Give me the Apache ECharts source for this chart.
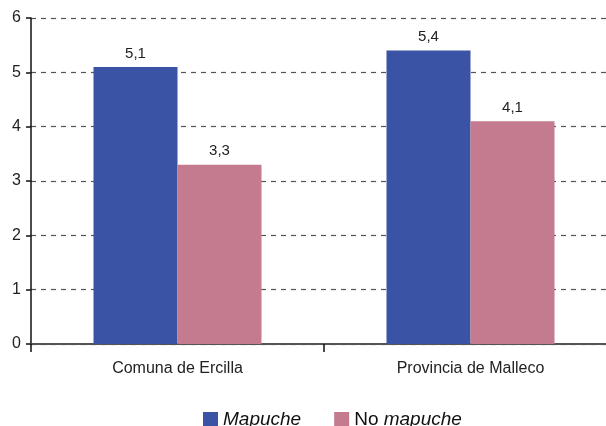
<!DOCTYPE html>
<html>
<head>
<meta charset="utf-8">
<script src="https://cdn.jsdelivr.net/npm/echarts@6/dist/echarts.min.js"></script>
<style>
  html, body { margin: 0; padding: 0; background: #fff; }
  #chart { width: 606px; height: 426px; }
</style>
</head>
<body>
<div id="chart"></div>
<script>
// datos
var categories = ['Comuna de Ercilla', 'Provincia de Malleco'];
var mapuche = [5.1, 5.4];
var noMapuche = [3.3, 4.1];
var seriesNames = ['Mapuche', 'No mapuche'];
var colorList = ['#3a53a4', '#c47b8f'];

var chart = echarts.init(document.getElementById('chart'));
var font = 'Liberation Sans, Arial, sans-serif';

function comma(p) {
  return String(p.value.toFixed(1)).replace('.', ',');
}

var option = {
  animation: false,
  grid: { top: 18, bottom: 82, left: 31, width: 586, outerBoundsMode: 'none' },
  legend: {
    left: 203,
    top: 410,
    padding: 0,
    itemWidth: 15,
    itemHeight: 15,
    itemGap: 33,
    icon: 'rect',
    data: seriesNames,
    formatter: function (name) {
      if (name === 'Mapuche') return '{it|Mapuche}';
      return '{n|No }{it|mapuche}';
    },
    textStyle: {
      fontFamily: font,
      fontSize: 19,
      color: '#111',
      rich: {
        it: { fontStyle: 'italic', fontSize: 19, fontFamily: font, color: '#111' },
        n: { fontSize: 19, fontFamily: font, color: '#111' }
      }
    }
  },
  xAxis: {
    type: 'category',
    data: categories,
    axisLine: { lineStyle: { color: '#555', width: 2 } },
    axisTick: { show: true, length: 8, lineStyle: { color: '#111', width: 1.5 } },
    axisLabel: { fontFamily: font, fontSize: 16, color: '#222', margin: 17 },
    splitLine: { show: false }
  },
  yAxis: {
    type: 'value',
    min: 0,
    max: 6,
    interval: 1,
    axisLine: { show: true, lineStyle: { color: '#111', width: 1.5 } },
    axisTick: { show: true, length: 5, lineStyle: { color: '#111', width: 1.5 } },
    axisLabel: { fontFamily: font, fontSize: 16, color: '#222', margin: 10 },
    splitLine: {
      show: true,
      lineStyle: { type: [5, 5], color: '#555', width: 1.2 }
    }
  },
  series: [
    {
      name: seriesNames[0],
      type: 'bar',
      data: mapuche,
      barWidth: 84,
      barGap: '0%',
      itemStyle: { color: colorList[0] },
      label: {
        show: true, position: 'top', distance: 6,
        fontFamily: font, fontSize: 15, color: '#222',
        formatter: comma
      }
    },
    {
      name: seriesNames[1],
      type: 'bar',
      data: noMapuche,
      barWidth: 84,
      barGap: '0%',
      itemStyle: { color: colorList[1] },
      label: {
        show: true, position: 'top', distance: 6,
        fontFamily: font, fontSize: 15, color: '#222',
        formatter: comma
      }
    }
  ]
};
chart.setOption(option);
</script>
</body>
</html>
